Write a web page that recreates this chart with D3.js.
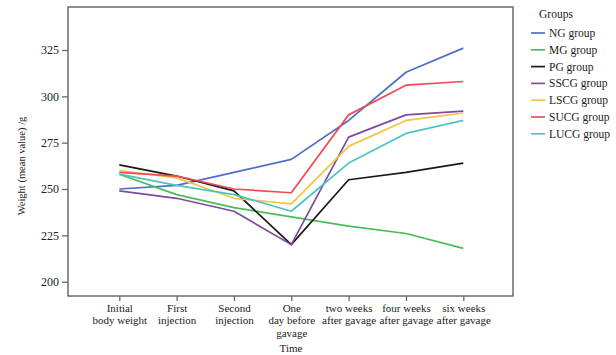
<!DOCTYPE html>
<html>
<head>
<meta charset="utf-8">
<script src="https://cdn.jsdelivr.net/npm/d3@7"></script>
<style>
body{margin:0;background:#fff;}
svg{display:block;}
text{font-family:"Liberation Serif","DejaVu Serif",serif;fill:#222;}
</style>
</head>
<body>
<svg id="c" width="616" height="355"></svg>
<script>
const categories = [
  ["Initial","body weight"],
  ["First","injection"],
  ["Second","injection"],
  ["One","day before","gavage"],
  ["two weeks","after gavage"],
  ["four weeks","after gavage"],
  ["six weeks","after gavage"]
];
const seriesNames = ["NG group","MG group","PG group","SSCG group","LSCG group","SUCG group","LUCG group"];
const NG   = [250, 252, 259, 266, 287, 313, 326];
const MG   = [258, 247, 240, 235, 230, 226, 218];
const PG   = [263, 257, 249, 220, 255, 259, 264];
const SSCG = [249, 245, 238, 220, 278, 290, 292];
const LSCG = [260, 256, 245, 242, 273, 287, 291];
const SUCG = [259, 257, 250, 248, 290, 306, 308];
const LUCG = [258, 252, 247, 238, 264, 280, 287];
const yTicks = [200, 225, 250, 275, 300, 325];
const colors = ["#4f6fc4","#4cbb5a","#1a1a1a","#7e4b9e","#f6c343","#ee4d55","#4ec3c6"];
const seriesValues = [NG, MG, PG, SSCG, LSCG, SUCG, LUCG];

const svg = d3.select("#c");
const box = {left:68, right:513, top:7, bottom:296};

const keys = categories.map(c => c.join(" "));
const x = d3.scalePoint().domain(keys).range([119.3, 463.3]);
const y = d3.scaleLinear().domain([200, 325]).range([281.7, 50]);

// frame
svg.append("rect").attr("x", box.left).attr("y", box.top)
  .attr("width", box.right - box.left).attr("height", box.bottom - box.top)
  .attr("fill", "none").attr("stroke", "#6b6b6b").attr("stroke-width", 1.5);

// y axis
const yAxis = svg.append("g").attr("transform", `translate(${box.left},0)`)
  .call(d3.axisLeft(y).tickValues(yTicks).tickSize(6).tickPadding(3));
yAxis.select(".domain").remove();
yAxis.selectAll("line").attr("stroke", "#6b6b6b").attr("stroke-width", 1.3);
yAxis.selectAll("text").attr("font-size", 12).attr("font-family", "Liberation Serif").attr("fill", "#222");

// x axis
const xAxis = svg.append("g").attr("transform", `translate(0,${box.bottom})`)
  .call(d3.axisBottom(x).tickSize(5).tickFormat(""));
xAxis.select(".domain").remove();
xAxis.selectAll("line").attr("stroke", "#6b6b6b").attr("stroke-width", 1.3);
xAxis.selectAll(".tick").each(function(d, i) {
  const t = d3.select(this).append("text")
    .attr("text-anchor", "middle").attr("font-size", 11)
    .attr("font-family", "Liberation Serif").attr("fill", "#222");
  categories[i].forEach((line, j) => {
    t.append("tspan").attr("x", 0).attr("y", 16 + j * 12.3).text(line);
  });
});

// axis titles
svg.append("text").attr("x", 291).attr("y", 352).attr("text-anchor", "middle")
  .attr("font-size", 11).text("Time");
svg.append("text").attr("transform", "translate(25,166) rotate(-90)")
  .attr("text-anchor", "middle").attr("font-size", 10.5).text("Weight (mean value) /g");

// lines
const line = d3.line().x((d, i) => x(keys[i])).y(d => y(d));
seriesValues.forEach((vals, k) => {
  svg.append("path").datum(vals).attr("d", line)
    .attr("fill", "none").attr("stroke", colors[k]).attr("stroke-width", 1.7)
    .attr("stroke-linejoin", "round");
});

// legend
svg.append("text").attr("x", 539).attr("y", 18).attr("font-size", 11.5).text("Groups");
seriesNames.forEach((n, k) => {
  const yy = 33 + k * 16.8;
  svg.append("line").attr("x1", 531).attr("x2", 545).attr("y1", yy).attr("y2", yy)
    .attr("stroke", colors[k]).attr("stroke-width", 1.7);
  svg.append("text").attr("x", 549).attr("y", yy + 4).attr("font-size", 11.5).text(n);
});
</script>
</body>
</html>
